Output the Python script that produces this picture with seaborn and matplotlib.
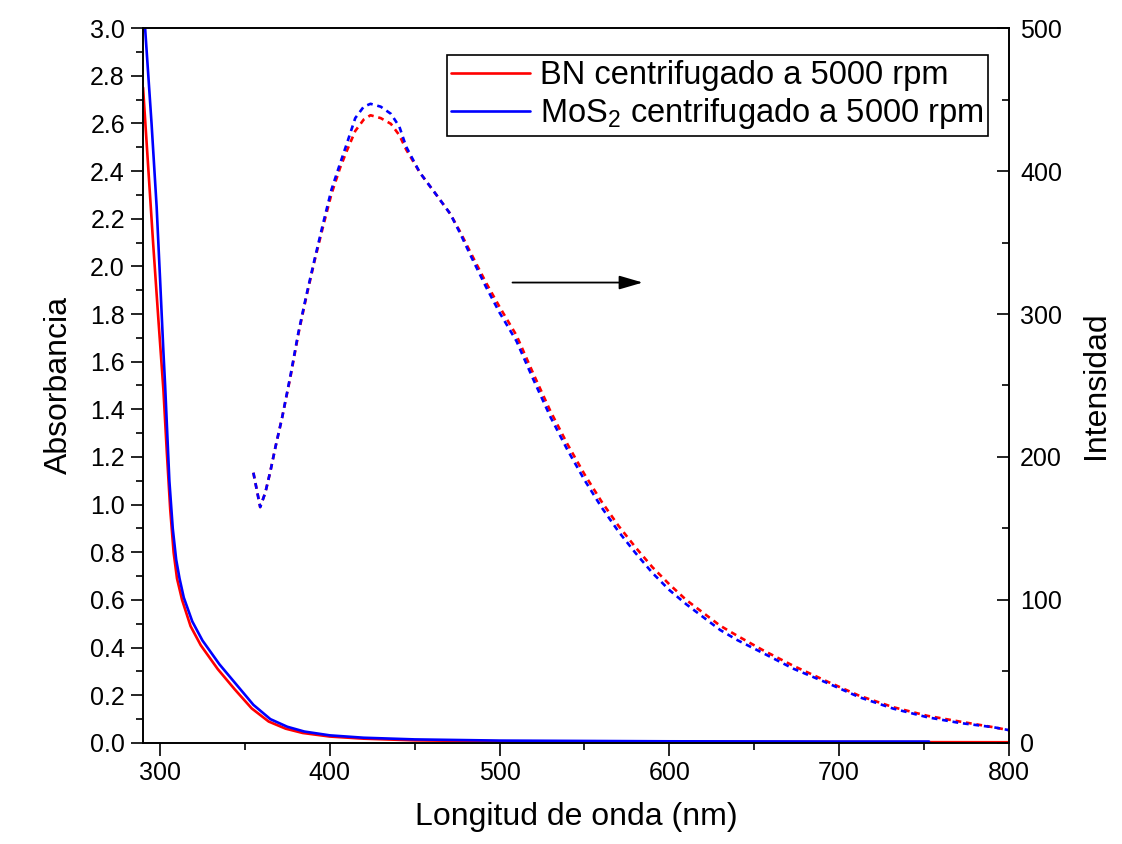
import numpy as np
import pandas as pd
import matplotlib
matplotlib.use("Agg")
import matplotlib.pyplot as plt
import seaborn as sns
from matplotlib.lines import Line2D
from matplotlib.ticker import MultipleLocator, FormatStrFormatter

# ---------------- data ----------------
# Absorbance (left axis)
abs_bn_x = [290, 293, 296, 299, 302, 304, 306, 308, 310, 313, 318, 324, 334, 344, 354, 364, 374, 384,
            400, 420, 450, 500, 600, 700, 800]
abs_bn_y = [2.75, 2.42, 2.09, 1.78, 1.48, 1.22, 0.98, 0.80, 0.69, 0.60, 0.49, 0.41, 0.31, 0.225, 0.145,
            0.09, 0.06, 0.042, 0.027, 0.018, 0.011, 0.007, 0.005, 0.004, 0.003]
abs_mos2_x = [290, 291.2, 295, 298, 300, 302, 303, 305.5, 307.5, 309.5, 311.5, 314, 319, 325, 335, 345,
              355, 365, 375, 385, 400, 420, 450, 500, 600, 700, 753]
abs_mos2_y = [3.15, 3.0, 2.6, 2.25, 1.95, 1.64, 1.50, 1.10, 0.90, 0.77, 0.69, 0.61, 0.51, 0.43, 0.33,
              0.245, 0.16, 0.10, 0.068, 0.048, 0.032, 0.022, 0.015, 0.010, 0.007, 0.006, 0.006]

# Intensity (right axis)
int_x = [355, 359, 362, 365, 368, 372, 377, 381.5, 386, 391, 396, 401, 406, 410, 415, 420, 424, 430,
         436, 441, 445, 453, 463, 471, 477, 482.5, 492, 500, 510, 520, 530, 540, 550, 560, 570, 580,
         590, 600, 610, 620, 630, 640, 655, 673, 693, 712, 732, 752, 771, 791, 800]
int_mos2 = [189, 165, 175, 190, 207, 228, 258, 287, 312, 338, 363, 387, 405, 419, 437, 445, 447, 445,
            440, 431, 417, 399, 383, 370, 356, 342, 319, 301, 281, 254, 228, 205, 184, 165, 148, 133,
            119, 107, 97, 88, 79, 72, 63, 52, 42, 32, 24, 18, 14, 11, 9]
int_bn = [189, 165, 175, 190, 207, 228, 257, 286, 311, 337, 361, 384, 402, 414, 428, 436, 439, 437,
          433, 425, 415, 399, 383, 370, 357, 344, 322, 305, 285, 258, 232, 209, 188, 169, 152, 137,
          123, 111, 100, 91, 82, 75, 65, 54, 43, 33, 25, 19, 15, 11, 9]

labels = ["BN centrifugado a 5000 rpm", "MoS$_2$ centrifugado a 5000 rpm"]
colors = ["#ff0000", "#0000ff"]

# ---------------- style ----------------
sns.set_theme(style="ticks")
plt.rcParams["font.family"] = ["Liberation Sans", "DejaVu Sans"]
plt.rcParams["mathtext.default"] = "regular"
plt.rcParams["text.color"] = "black"
plt.rcParams["axes.labelcolor"] = "black"

fig = plt.figure(figsize=(11.22, 8.44), dpi=100)
ax = fig.add_axes([0.1275, 0.1197, 0.7716, 0.8471])
ax2 = ax.twinx()

lw = 1.9
sns.lineplot(x=abs_bn_x, y=abs_bn_y, ax=ax, color=colors[0], lw=lw, estimator=None, sort=False)
sns.lineplot(x=abs_mos2_x, y=abs_mos2_y, ax=ax, color=colors[1], lw=lw, estimator=None, sort=False)
dash = (0, (2.2, 1.8))
sns.lineplot(x=int_x, y=int_bn, ax=ax2, color=colors[0], lw=lw, linestyle=dash, estimator=None, sort=False)
sns.lineplot(x=int_x, y=int_mos2, ax=ax2, color=colors[1], lw=lw, linestyle=dash,
             estimator=None, sort=False)

ax.set_xlim(290, 800)
ax.set_ylim(0, 3.0)
ax2.set_ylim(0, 500)

ax.xaxis.set_major_locator(MultipleLocator(100))
ax.xaxis.set_minor_locator(MultipleLocator(50))
ax.yaxis.set_major_locator(MultipleLocator(0.2))
ax.yaxis.set_minor_locator(MultipleLocator(0.1))
ax.yaxis.set_major_formatter(FormatStrFormatter("%.1f"))
ax2.yaxis.set_major_locator(MultipleLocator(100))
ax2.yaxis.set_minor_locator(MultipleLocator(50))

for a in (ax, ax2):
    for s in a.spines.values():
        s.set_linewidth(1.2)
        s.set_color("black")

ax.tick_params(axis="both", which="major", direction="out", length=9, width=1.2,
               labelsize=18, colors="black", pad=4)
ax.tick_params(axis="both", which="minor", direction="out", length=5, width=1.2, colors="black")
ax.tick_params(axis="y", which="both", right=False)
ax.tick_params(axis="x", which="both", top=False)
ax2.tick_params(axis="y", which="major", direction="in", length=9, width=1.2,
                labelsize=18, colors="black", pad=8)
ax2.tick_params(axis="y", which="minor", direction="in", length=5, width=1.2, colors="black")

ax.set_xlabel("Longitud de onda (nm)", fontsize=23, labelpad=12)
ax.set_ylabel("Absorbancia", fontsize=23, labelpad=12)
ax2.set_ylabel("Intensidad", fontsize=23, labelpad=14)

# arrow pointing toward the right axis
ax2.annotate("", xy=(586, 322), xytext=(506, 322),
             arrowprops=dict(arrowstyle="-|>,head_length=1.2,head_width=0.35", color="black", lw=1.3))

handles = [Line2D([0], [0], color=c, lw=lw) for c in colors]
leg = ax2.legend(handles, labels, loc="upper right", bbox_to_anchor=(0.976, 0.962),
                 bbox_transform=ax.transAxes, fontsize=23.5, frameon=True, fancybox=False,
                 edgecolor="black", framealpha=1, borderpad=0.15, labelspacing=0.15,
                 handlelength=2.4, handletextpad=0.3, borderaxespad=0)
leg.get_frame().set_linewidth(1.2)

fig.savefig("out.png", dpi=100)
